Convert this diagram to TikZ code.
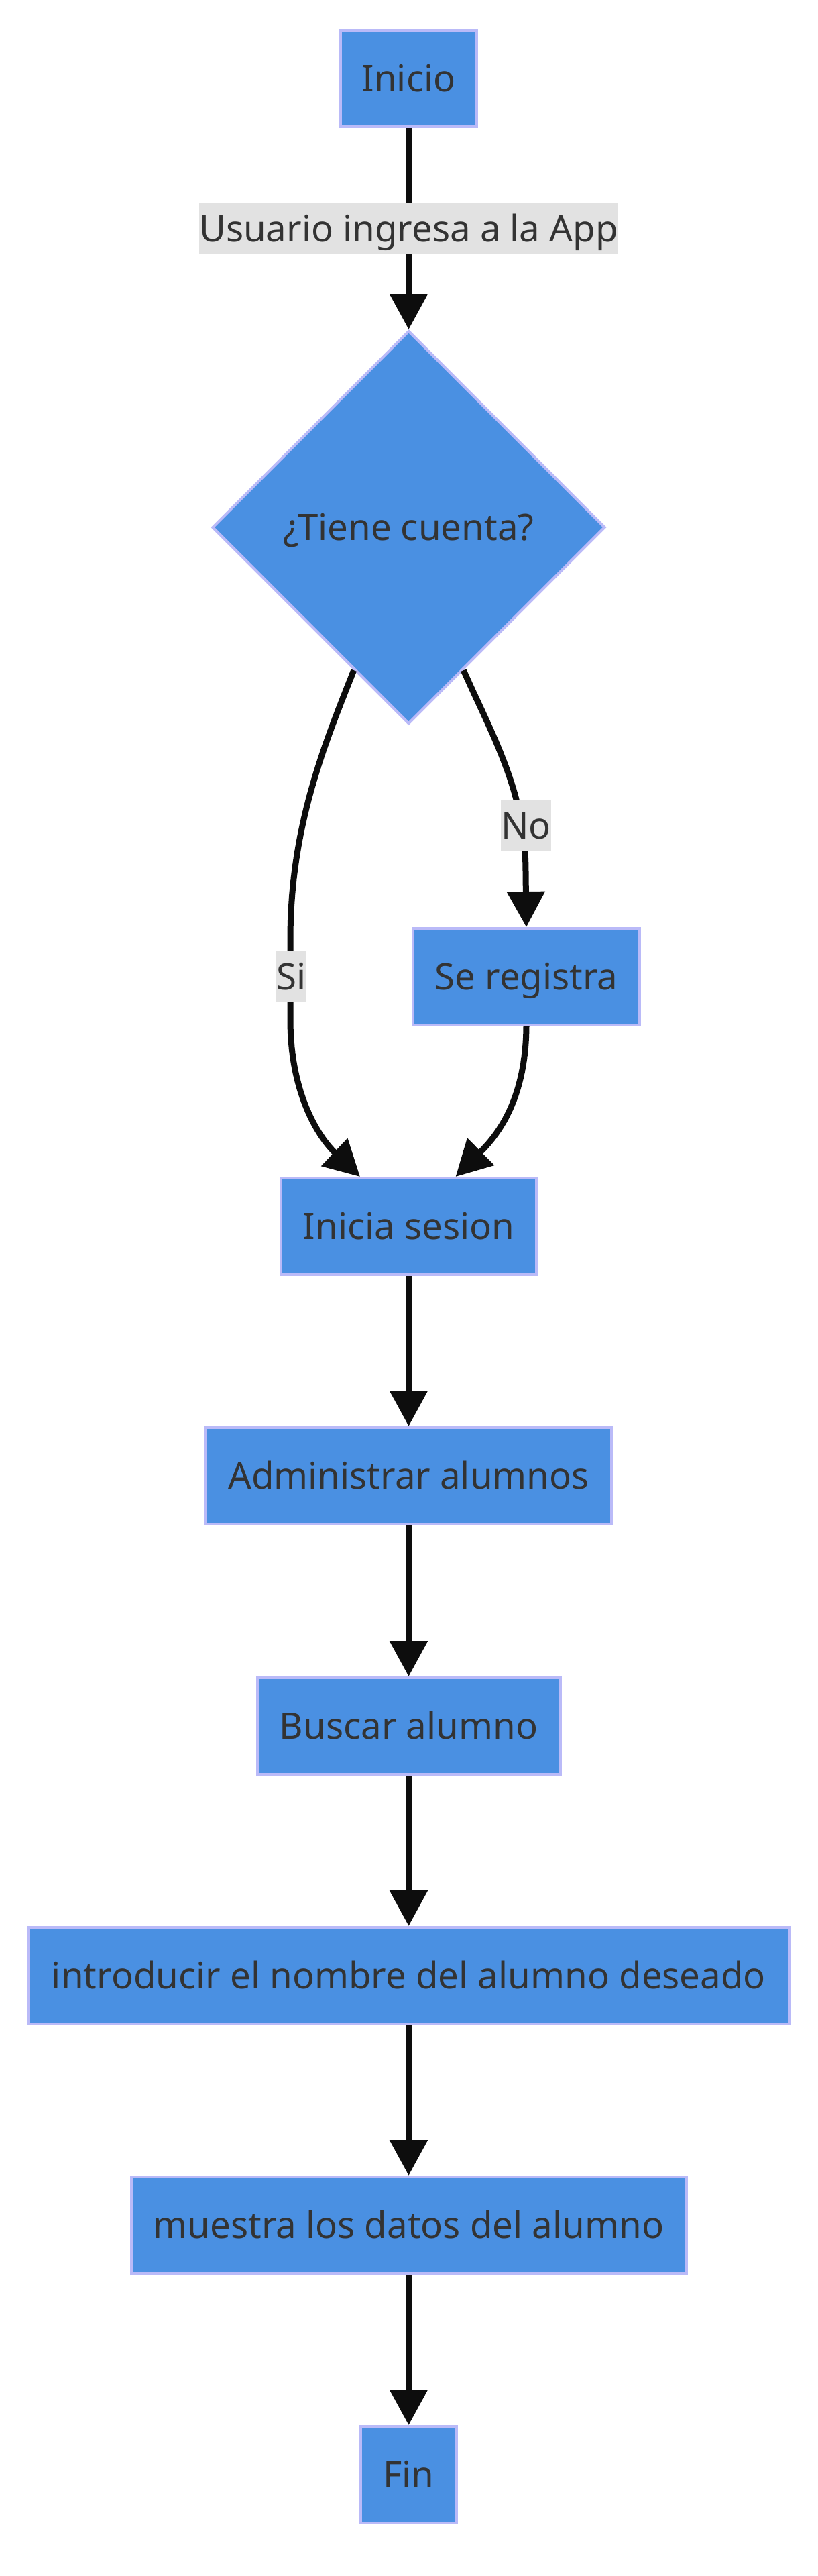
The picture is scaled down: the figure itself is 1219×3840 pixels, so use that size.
\documentclass[tikz,border=0pt]{standalone}
\usepackage{fontspec}
\setmainfont{Noto Sans}
\usetikzlibrary{arrows.meta,shapes.geometric}
\definecolor{nodefill}{RGB}{74,144,226}
\definecolor{nodeborder}{RGB}{186,186,248}
\definecolor{edgecol}{RGB}{13,13,13}
\definecolor{txtcol}{RGB}{51,51,51}
\definecolor{lblbg}{RGB}{226,226,226}
\begin{document}
\begin{tikzpicture}[x=1pt,y=-1pt,
  txt/.style={text=txtcol,font=\fontsize{54.6}{66}\selectfont,
    text height=49.1pt,text depth=10.1pt},
  box/.style={txt,rectangle,draw=nodeborder,fill=nodefill,line width=4pt,
    minimum height=144pt,inner sep=0pt},
  decision/.style={txt,diamond,aspect=1,draw=nodeborder,fill=nodefill,line width=4pt,
    minimum width=586pt,minimum height=586pt,inner sep=0pt},
  lbl/.style={txt,rectangle,fill=lblbg,inner xsep=0pt,inner ysep=0pt,
    minimum height=76pt},
  arr/.style={draw=edgecol,line width=9pt,
    -{Triangle[length=53pt,width=55pt]}}]
\path[use as bounding box,fill=white] (0,0) rectangle (1219,3840);

\node[box,minimum width=203pt] (inicio) at (609.5,117) {Inicio};
\node[decision] (tiene) at (609.5,786) {¿Tiene cuenta?};
\node[box,minimum width=338pt] (se) at (785,1456) {Se registra};
\node[box,minimum width=381pt] (ini) at (609.5,1828) {Inicia sesion};
\node[box,minimum width=605pt] (adm) at (609.5,2200) {Administrar alumnos};
\node[box,minimum width=452pt] (bus) at (609.5,2573) {Buscar alumno};
\node[box,minimum width=1134pt] (intro) at (609.5,2945) {introducir el nombre del alumno deseado};
\node[box,minimum width=828pt] (mue) at (609.5,3317) {muestra los datos del alumno};
\node[box,minimum width=143pt] (fin) at (609.5,3689) {Fin};

\draw[arr] (inicio) -- (tiene);
\draw[arr] (tiene.249) .. controls (486,1105) and (433,1230) .. (433,1400)
  -- (433,1520) .. controls (433,1630) and (475,1695) .. ([xshift=-72.5pt]ini.north);
\draw[arr] (tiene.291) .. controls (735,1098) and (784,1180) .. (784,1300) -- (se.north);
\draw[arr] (se.south) .. controls (784,1640) and (742,1692) .. ([xshift=70pt]ini.north);
\draw[arr] (ini) -- (adm);
\draw[arr] (adm) -- (bus);
\draw[arr] (bus) -- (intro);
\draw[arr] (intro) -- (mue);
\draw[arr] (mue) -- (fin);

\node[lbl] (l1) at (609.5,341) {Usuario ingresa a la App};
\node[lbl] (l2) at (434.5,1456) {Si};
\node[lbl] (l3) at (784.5,1231) {No};
\end{tikzpicture}
\end{document}
